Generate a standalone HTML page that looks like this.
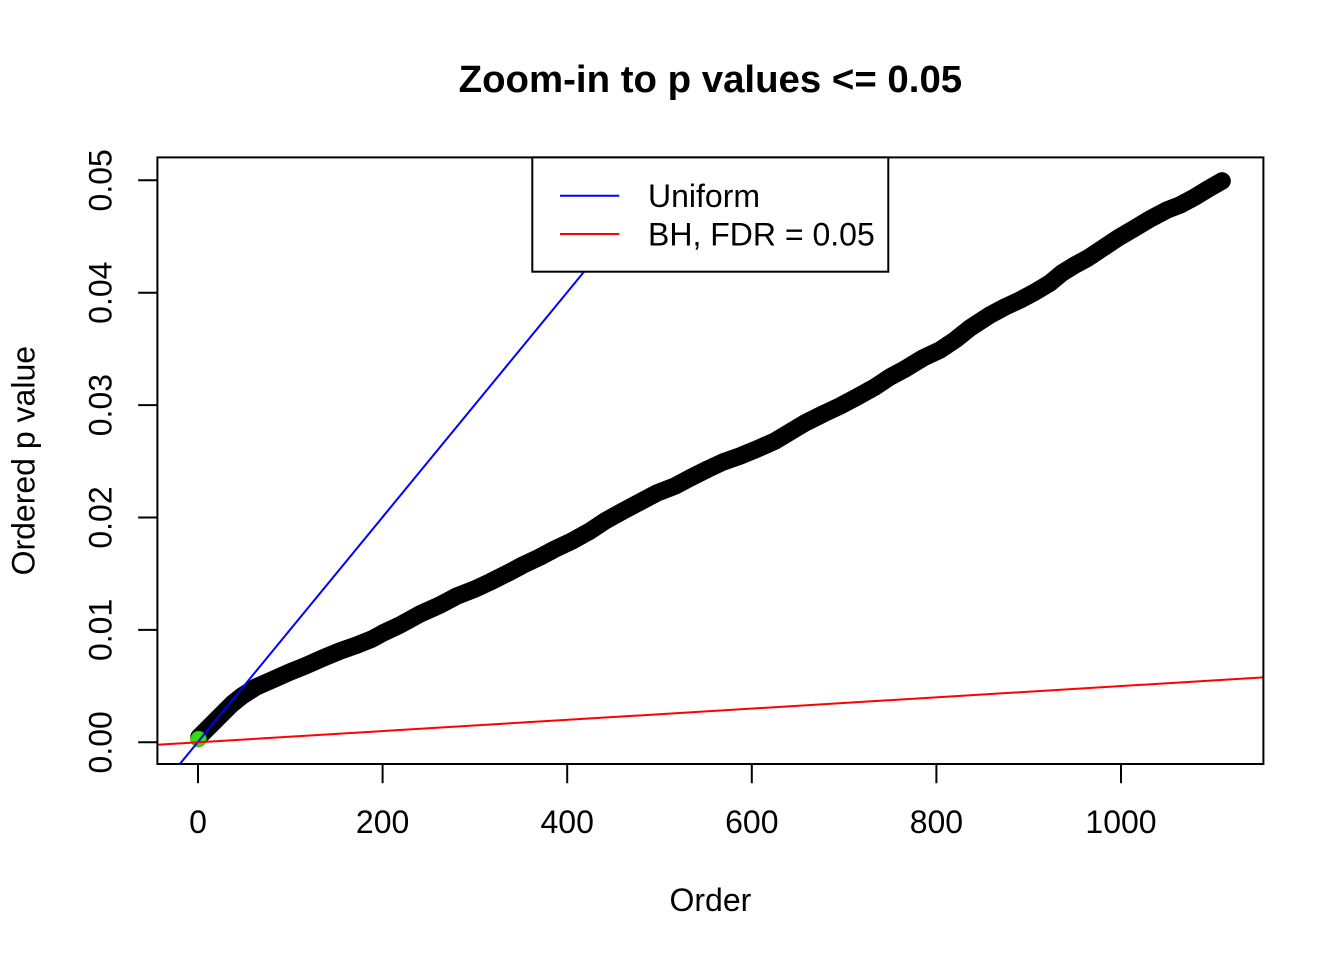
<!DOCTYPE html>
<html>
<head>
<meta charset="utf-8">
<style>
  html, body { margin: 0; padding: 0; background: #ffffff; }
  svg { display: block; }
  text { font-family: "Liberation Sans", Arial, sans-serif; fill: #000; }
</style>
</head>
<body>
<svg width="1344" height="960" viewBox="0 0 1344 960" xmlns="http://www.w3.org/2000/svg">
  <rect x="0" y="0" width="1344" height="960" fill="#ffffff"/>
  <defs>
    <clipPath id="plotclip">
      <rect x="157.4" y="157.4" width="1106" height="606.6"/>
    </clipPath>
  </defs>

  <!-- Title -->
  <text x="710.4" y="92.1" font-size="38.4" font-weight="bold" text-anchor="middle">Zoom-in to p values &lt;= 0.05</text>

  <!-- Data: black points band -->
  <g clip-path="url(#plotclip)">
    <polyline fill="none" stroke="#000" stroke-width="17.5" stroke-linecap="round" stroke-linejoin="round"
      points="199,737 210,726 222,714 232,704 242,696 256,687 272,680 290,672 305,666 323,658 340,651 357,645 372,639 383,633 400,625 420,614 440,605 457,596 475,589 490,582 510,572 523,565 540,557 555,549 572,541 590,531 605,521 623,511 640,502 657,493 675,486 690,478 708,469 723,462 740,456 757,449 775,441 790,432 805,423 823,414 840,406 857,397 875,387 890,377 905,369 923,358 940,350 955,340 970,328 990,315 1005,307 1020,300 1035,292 1050,283 1062,273 1075,265 1088,258 1100,250 1118,238 1135,228 1150,219 1167,210 1180,205 1195,197 1208,189 1222,181"/>
    <circle cx="1222" cy="181" r="8.7" fill="#000"/>
    <!-- green point -->
    <circle cx="198.5" cy="739" r="7.8" fill="#33dd14" stroke="#22aa10" stroke-width="0.8"/>
    <!-- Uniform line p = i/10000 -->
    <line x1="157.4" y1="791.3" x2="1263.4" y2="-555.6" stroke="#0000ff" stroke-width="2"/>
    <!-- BH line p = 0.05*i/10000 -->
    <line x1="157.4" y1="744.8" x2="1263.4" y2="677.4" stroke="#ff0000" stroke-width="2"/>
  </g>

  <!-- Plot box -->
  <rect x="157.4" y="157.4" width="1106" height="606.6" fill="none" stroke="#000" stroke-width="2"/>

  <!-- X axis ticks -->
  <g stroke="#000" stroke-width="2">
    <line x1="198" y1="764" x2="198" y2="783.2"/>
    <line x1="382.6" y1="764" x2="382.6" y2="783.2"/>
    <line x1="567.2" y1="764" x2="567.2" y2="783.2"/>
    <line x1="751.8" y1="764" x2="751.8" y2="783.2"/>
    <line x1="936.4" y1="764" x2="936.4" y2="783.2"/>
    <line x1="1121" y1="764" x2="1121" y2="783.2"/>
  </g>
  <g font-size="32" text-anchor="middle">
    <text x="198" y="833.1">0</text>
    <text x="382.6" y="833.1">200</text>
    <text x="567.2" y="833.1">400</text>
    <text x="751.8" y="833.1">600</text>
    <text x="936.4" y="833.1">800</text>
    <text x="1121" y="833.1">1000</text>
  </g>
  <text x="710.4" y="911" font-size="32" text-anchor="middle">Order</text>

  <!-- Y axis ticks -->
  <g stroke="#000" stroke-width="2">
    <line x1="157.4" y1="742.3" x2="138.2" y2="742.3"/>
    <line x1="157.4" y1="629.9" x2="138.2" y2="629.9"/>
    <line x1="157.4" y1="517.5" x2="138.2" y2="517.5"/>
    <line x1="157.4" y1="405.1" x2="138.2" y2="405.1"/>
    <line x1="157.4" y1="292.7" x2="138.2" y2="292.7"/>
    <line x1="157.4" y1="180.3" x2="138.2" y2="180.3"/>
  </g>
  <g font-size="32" text-anchor="middle">
    <text transform="translate(111.3,742.3) rotate(-90)">0.00</text>
    <text transform="translate(111.3,629.9) rotate(-90)">0.01</text>
    <text transform="translate(111.3,517.5) rotate(-90)">0.02</text>
    <text transform="translate(111.3,405.1) rotate(-90)">0.03</text>
    <text transform="translate(111.3,292.7) rotate(-90)">0.04</text>
    <text transform="translate(111.3,180.3) rotate(-90)">0.05</text>
  </g>
  <text transform="translate(34.5,460.7) rotate(-90)" font-size="32" text-anchor="middle">Ordered p value</text>

  <!-- Legend -->
  <rect x="532.3" y="157.4" width="356" height="114.3" fill="#ffffff" stroke="#000" stroke-width="2"/>
  <line x1="560" y1="195.7" x2="619.3" y2="195.7" stroke="#0000ff" stroke-width="2"/>
  <line x1="560" y1="234" x2="619.3" y2="234" stroke="#ff0000" stroke-width="2"/>
  <text x="648" y="207" font-size="32">Uniform</text>
  <text x="648" y="245.3" font-size="32">BH, FDR = 0.05</text>
</svg>
</body>
</html>
